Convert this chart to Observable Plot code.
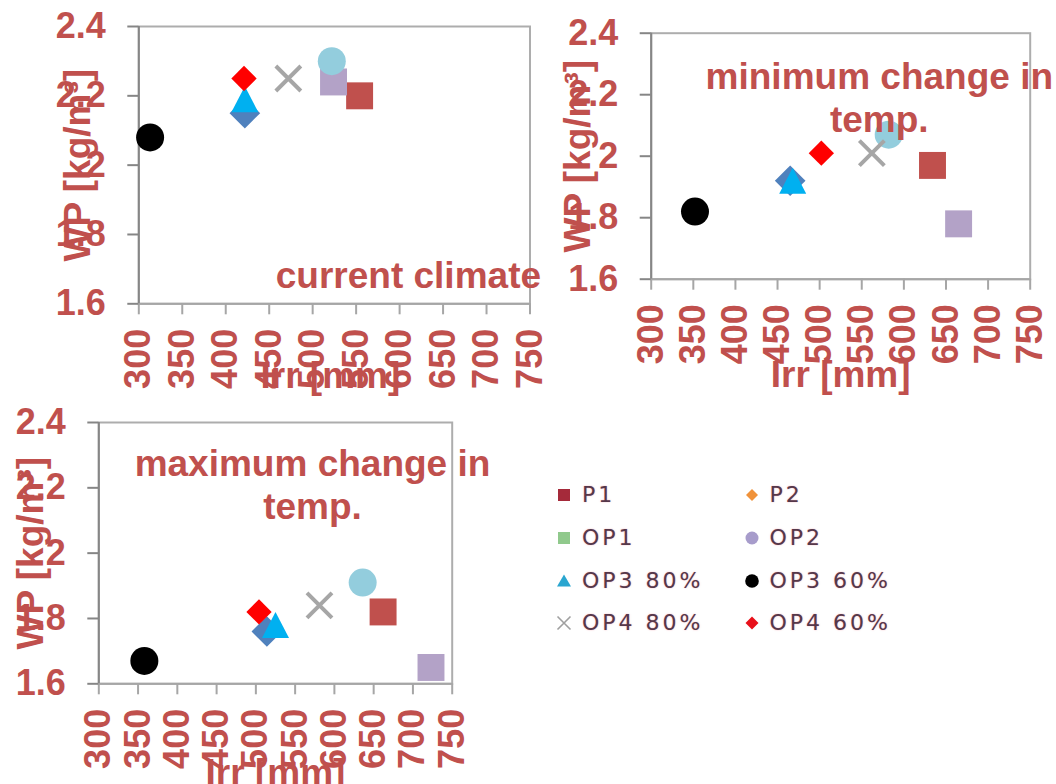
<!DOCTYPE html>
<html>
<head>
<meta charset="utf-8">
<script src="https://cdn.jsdelivr.net/npm/d3@7"></script>
<script src="https://cdn.jsdelivr.net/npm/@observablehq/plot@0.6"></script>
<style>
  html, body { margin: 0; padding: 0; background: #fff; }
  #root { position: relative; width: 1056px; height: 784px; overflow: hidden; background: #fff; }
  .panel { position: absolute; }
  .panel svg { overflow: visible; background: transparent; }
  svg [aria-label$="tick label"] { font-weight: bold; }
  #legend { position: absolute; left: 540px; top: 474px; width: 420px; height: 170px;
    font-family: "DejaVu Sans", sans-serif; font-size: 22px; color: #55384a; letter-spacing: 3px; }
  .li { position: absolute; height: 24px; line-height: 24px; white-space: nowrap; }
  .li svg { position: absolute; left: 0; top: 0; }
  .li span { position: absolute; left: 26px; top: 0; text-shadow: 0 0 1.5px rgba(230,90,110,0.55); }
</style>
</head>
<body>
<div id="root"></div>
<script>
// ---- data ----
const series = ["P1", "P2", "OP1", "OP2", "OP3 80%", "OP3 60%", "OP4 80%", "OP4 60%"];
const xTicks = [300, 350, 400, 450, 500, 550, 600, 650, 700, 750];
const yTicks = [1.6, 1.8, 2, 2.2, 2.4];

const irrCurrent = [554, 422, 524, 522, 422, 313, 472, 421];
const wpCurrent  = [2.20, 2.15, 2.24, 2.30, 2.19, 2.08, 2.25, 2.25];

const irrMinChange = [634, 465, 665, 582, 468, 352, 562, 502];
const wpMinChange  = [1.97, 1.92, 1.78, 2.07, 1.92, 1.82, 2.01, 2.01];

const irrMaxChange = [662, 514, 723, 636, 525, 358, 581, 504];
const wpMaxChange  = [1.82, 1.76, 1.65, 1.91, 1.78, 1.67, 1.84, 1.82];

const panelTitles = ["current climate", "minimum change in\ntemp.", "maximum change in\ntemp."];
const xTitle = "Irr [mm]";
const yTitle = "WP [kg/m³]";

// ---- styles ----
const RED = "#C0504D";
const triSym = {draw(ctx, size) {
  const r = Math.sqrt(size / Math.PI); const w = r * 2.0, h = r * 1.93;
  ctx.moveTo(0, -h / 2); ctx.lineTo(w / 2, h / 2); ctx.lineTo(-w / 2, h / 2); ctx.closePath();
}};
const xSym = {draw(ctx, size) {
  const r = Math.sqrt(size / Math.PI);
  ctx.moveTo(-r, -r); ctx.lineTo(r, r); ctx.moveTo(-r, r); ctx.lineTo(r, -r);
}};
const seriesStyle = {
  "P1":      {symbol: "square",   fill: "#C0504D", r: 15.2},
  "P2":      {symbol: "diamond2", fill: "#4F81BD", r: 13.8},
  "OP1":     {symbol: "square",   fill: "#B3A2C7", r: 15.2},
  "OP2":     {symbol: "circle",   fill: "#93CDDD", r: 14},
  "OP3 80%": {symbol: triSym,     fill: "#00B0F0", r: 13.5},
  "OP3 60%": {symbol: "circle",   fill: "#000000", r: 14},
  "OP4 80%": {symbol: xSym,       stroke: "#A6A6A6", r: 12.5},
  "OP4 60%": {symbol: "diamond2", fill: "#FF0000", r: 11.4}
};

const panels = [
  {irr: irrCurrent, wp: wpCurrent, title: panelTitles[0], left: 0, top: 0, width: 545, height: 400,
   mL: 138.3, mR: 15.5, mT: 26, mB: 96.7, yTitleDx: -49, xTitleDx: -4, xTitleDy: 84,
   tDx: 74, tDy: 261.3},
  {irr: irrMinChange, wp: wpMinChange, title: panelTitles[1], left: 540, top: 0, width: 516, height: 400,
   mL: 110.7, mR: 26.3, mT: 32.7, mB: 121.3, yTitleDx: -61, xTitleDx: 0, xTitleDy: 108,
   tDx: 38.6, tDy: 99},
  {irr: irrMaxChange, wp: wpMaxChange, title: panelTitles[2], left: 0, top: 400, width: 520, height: 384,
   mL: 98.3, mR: 68.3, mT: 22, mB: 100.7, yTitleDx: -56, xTitleDx: 0, xTitleDy: 101.5,
   tDx: 37, tDy: 96.3}
];

const root = document.getElementById("root");
for (const p of panels) {
  const rows = series.map((s, i) => ({series: s, irr: p.irr[i], wp: p.wp[i]}));
  const dots = series.map(s => {
    const st = seriesStyle[s];
    const opts = {x: "irr", y: "wp", r: st.r, symbol: st.symbol};
    if (st.stroke) { opts.stroke = st.stroke; opts.fill = "none"; opts.strokeWidth = 4; }
    else { opts.fill = st.fill; opts.stroke = "none"; }
    return Plot.dot(rows.filter(d => d.series === s), opts);
  });
  const chart = Plot.plot({
    width: p.width, height: p.height,
    marginLeft: p.mL, marginRight: p.mR, marginTop: p.mT, marginBottom: p.mB,
    style: {background: "transparent", fontFamily: "'Liberation Sans', Arial, sans-serif", overflow: "visible"},
    x: {domain: [300, 750]},
    y: {domain: [1.6, 2.4]},
    marks: [
      Plot.frame({stroke: "#ADADAD", strokeWidth: 2}),
      Plot.ruleY([yTicks[0]], {stroke: "#A6A6A6", strokeWidth: 2}),
      Plot.ruleX([xTicks[0]], {stroke: "#868686", strokeWidth: 2}),
      Plot.axisX({ticks: xTicks, tickSize: 11, tickPadding: 14, tickRotate: -90, fontSize: 36,
        fontWeight: "bold", fill: RED, stroke: "#A6A6A6", strokeWidth: 2, label: null,
        tickFormat: d => String(d)}),
      Plot.axisY({ticks: yTicks, tickSize: 11, tickPadding: 22, fontSize: 36,
        fontWeight: "bold", fill: RED, stroke: "#868686", strokeWidth: 2, label: null,
        tickFormat: d => String(d)}),
      ...dots,
      Plot.text([p.title], {frameAnchor: "top", dx: p.tDx, dy: p.tDy, textAnchor: "middle",
        lineAnchor: "bottom", lineHeight: 1.162, fontSize: 37, fontWeight: "bold", fill: RED}),
      Plot.text([xTitle], {frameAnchor: "bottom", dx: p.xTitleDx, dy: p.xTitleDy, textAnchor: "middle",
        lineAnchor: "bottom", fontSize: 37, fontWeight: "bold", fill: RED}),
      Plot.text([yTitle], {frameAnchor: "left", dx: p.yTitleDx, rotate: -90, textAnchor: "middle",
        lineAnchor: "bottom", fontSize: 37, fontWeight: "bold", fill: RED})
    ]
  });
  const wrap = document.createElement("div");
  wrap.className = "panel";
  wrap.style.left = p.left + "px"; wrap.style.top = p.top + "px";
  wrap.style.width = p.width + "px"; wrap.style.height = p.height + "px";
  wrap.appendChild(chart);
  root.appendChild(wrap);
}

// ---- legend ----
const legendSwatch = {
  "P1":      '<rect x="2" y="6" width="12" height="12" fill="#A52A3A"/>',
  "P2":      '<path d="M8 6 L14 12 L8 18 L2 12 Z" fill="#F0923A"/>',
  "OP1":     '<rect x="2" y="6" width="12" height="12" fill="#90C98C"/>',
  "OP2":     '<circle cx="8" cy="12" r="6.5" fill="#A79CCB"/>',
  "OP3 80%": '<path d="M8 5.5 L15 17.5 L1 17.5 Z" fill="#2AA6D0"/>',
  "OP3 60%": '<circle cx="8" cy="12" r="6.8" fill="#000"/>',
  "OP4 80%": '<path d="M1.5 5.5 L14.5 18.5 M1.5 18.5 L14.5 5.5" stroke="#A0A0A0" stroke-width="1.6"/>',
  "OP4 60%": '<path d="M8 5.5 L14.5 12 L8 18.5 L1.5 12 Z" fill="#E8101A"/>'
};
const legend = document.createElement("div");
legend.id = "legend";
series.forEach((s, i) => {
  const col = i % 2, row = Math.floor(i / 2);
  const item = document.createElement("div");
  item.className = "li";
  item.style.left = (col === 0 ? 16 : 203.5) + "px";
  item.style.top = (row * 42.8 + 9) + "px";
  item.innerHTML = '<svg width="17" height="24">' + legendSwatch[s] + '</svg><span>' + s + '</span>';
  legend.appendChild(item);
});
root.appendChild(legend);
</script>
</body>
</html>
